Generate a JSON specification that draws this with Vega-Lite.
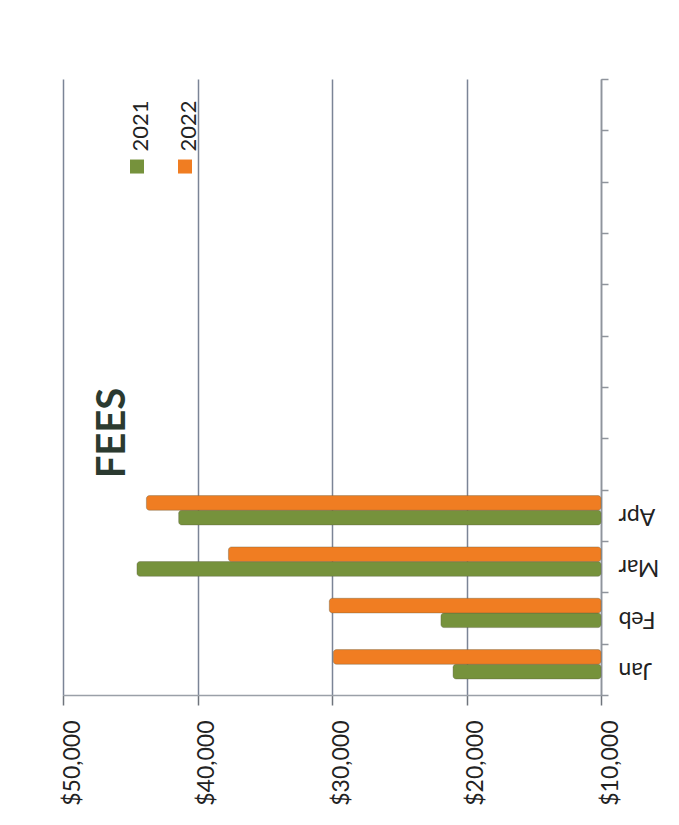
{
  "$schema": "https://vega.github.io/schema/vega-lite/v6.json",
  "width": 538,
  "height": 616,
  "autosize": "none",
  "padding": {"left": 63, "top": 79, "right": 78, "bottom": 130},
  "background": "#ffffff",
  "config": {
    "view": {"stroke": null},
    "font": "Lato",
    "style": {"guide-label": {"angle": -90, "font": "Lato", "fontSize": 22, "fill": "#222222"}}
  },
  "title": {
    "text": "FEES",
    "orient": "left",
    "frame": "group",
    "anchor": "middle",
    "offset": -72,
    "dx": -46,
    "fontSize": 40,
    "fontWeight": "bold",
    "font": "Lato",
    "color": "#2b3a30"
  },
  "data": {
    "values": [
      {"month": "Jan", "year": "2021", "fees": 21000},
      {"month": "Jan", "year": "2022", "fees": 29900},
      {"month": "Feb", "year": "2021", "fees": 21900},
      {"month": "Feb", "year": "2022", "fees": 30200},
      {"month": "Mar", "year": "2021", "fees": 44500},
      {"month": "Mar", "year": "2022", "fees": 37700},
      {"month": "Apr", "year": "2021", "fees": 41400},
      {"month": "Apr", "year": "2022", "fees": 43800}
    ]
  },
  "mark": {"type": "bar", "stroke": "#5a5a40", "strokeWidth": 0.6, "strokeOpacity": 0.6, "cornerRadius": 3},
  "encoding": {
    "y": {
      "field": "month",
      "type": "ordinal",
      "scale": {
        "domain": ["Dec", "Nov", "Oct", "Sep", "Aug", "Jul", "Jun", "May", "Apr", "Mar", "Feb", "Jan"],
        "paddingInner": 0,
        "paddingOuter": 0
      },
      "axis": {
        "orient": "right",
        "title": null,
        "tickBand": "extent",
        "labelExpr": "indexof(['Jan','Feb','Mar','Apr'], datum.value) >= 0 ? datum.value : ''",
        "labelAngle": 180,
        "labelAlign": "right",
        "labelBaseline": "middle",
        "labelPadding": 10,
        "labelFontSize": 23,
        "labelColor": "#222222",
        "labelFont": "Lato",
        "domainColor": "#8f949c",
        "domainWidth": 1.5,
        "tickColor": "#8f949c",
        "tickWidth": 1.5,
        "tickSize": 7,
        "grid": false
      }
    },
    "yOffset": {
      "field": "year",
      "type": "nominal",
      "scale": {"domain": ["2022", "2021"], "paddingInner": 0, "paddingOuter": 0.75, "align": 0.27}
    },
    "x": {
      "field": "fees",
      "type": "quantitative",
      "scale": {"domain": [10000, 50000], "reverse": true, "zero": false, "nice": false},
      "axis": {
        "orient": "bottom",
        "title": null,
        "values": [10000, 20000, 30000, 40000, 50000],
        "format": "$,.0f",
        "labelAngle": 270,
        "labelAlign": "right",
        "labelBaseline": "middle",
        "labelPadding": 15,
        "labelOffset": 9,
        "labelFontSize": 23,
        "labelColor": "#222222",
        "labelFont": "Lato",
        "grid": true,
        "gridColor": "#7b8496",
        "gridWidth": 1.5,
        "domainColor": "#9aa0a8",
        "domainWidth": 1.5,
        "tickColor": "#6f747c",
        "tickWidth": 1.5,
        "tickSize": 10
      }
    },
    "x2": {"datum": 10000},
    "color": {
      "field": "year",
      "type": "nominal",
      "scale": {"domain": ["2021", "2022"], "range": ["#76923c", "#f07d22"]},
      "legend": {
        "title": null,
        "orient": "none",
        "legendX": 63,
        "legendY": 61,
        "direction": "horizontal",
        "symbolType": "M-1,1.15L1,1.15L1,3.15L-1,3.15Z",
        "symbolSize": 196,
        "symbolStrokeWidth": 0,
        "labelFontSize": 22,
        "labelFont": "Lato",
        "labelColor": "#222222",
        "labelOffset": -7,
        "labelAlign": "left",
        "labelBaseline": "middle",
        "columnPadding": 22
      }
    }
  }
}
